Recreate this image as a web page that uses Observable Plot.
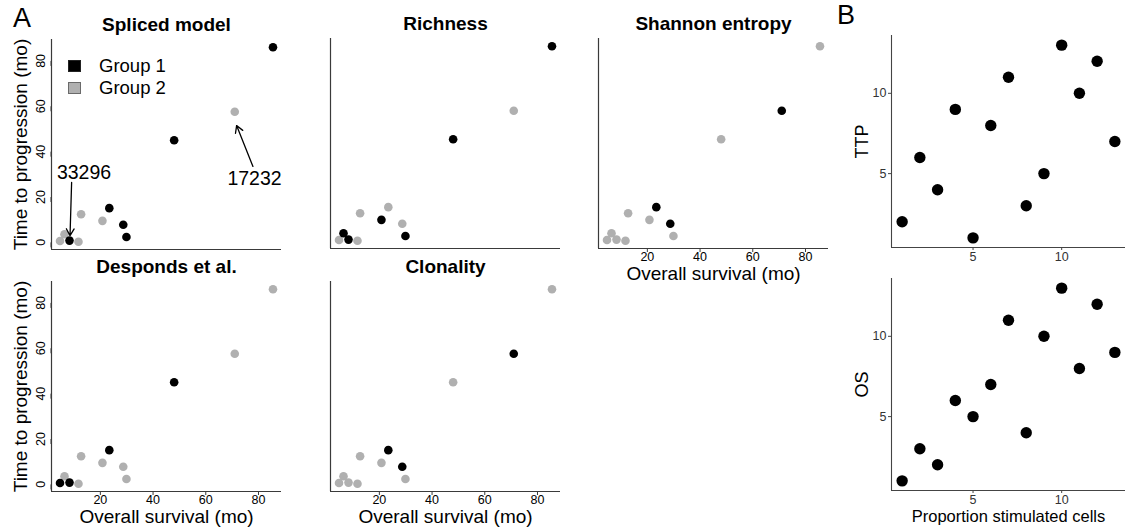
<!DOCTYPE html>
<html><head><meta charset="utf-8">
<script src="https://cdn.jsdelivr.net/npm/d3@7"></script>
<script src="https://cdn.jsdelivr.net/npm/@observablehq/plot@0.6"></script>
<style>
html,body{margin:0;padding:0;background:#fff;}
#fig{position:relative;width:1129px;height:527px;overflow:hidden;background:#fff;font-family:"Liberation Sans",Arial,Helvetica,sans-serif;color:#000;}
#fig > svg{position:absolute;}
.abs{position:absolute;white-space:nowrap;}
.lgrow{display:flex;align-items:center;height:22px;font-size:18.5px;}
.lgsq{width:13px;height:12px;margin-right:18px;box-sizing:border-box;}
</style></head><body><div id="fig"></div>
<script>
// ---------- data (panel A: 12 patients) ----------
const overallSurvival   = [4.7, 6.4, 8.3, 11.7, 12.7, 20.8, 23.4, 28.7, 29.9, 48.0, 71.0, 85.5];
const timeToProgression = [0.6, 3.6, 0.8, 0.3, 12.4, 9.5, 15.1, 7.8, 2.4, 45.0, 57.6, 86.0];
const panelTitles = ["Spliced model", "Richness", "Shannon entropy", "Desponds et al.", "Clonality"];
const groupSpliced   = [2, 2, 1, 2, 2, 2, 1, 1, 1, 1, 2, 1];
const groupRichness  = [2, 1, 1, 2, 2, 1, 2, 2, 1, 1, 2, 1];
const groupShannon   = [2, 2, 2, 2, 2, 2, 1, 1, 2, 2, 1, 2];
const groupDesponds  = [1, 2, 1, 2, 2, 2, 1, 2, 2, 1, 2, 2];
const groupClonality = [2, 2, 2, 2, 2, 2, 1, 1, 2, 2, 1, 2];
const groupNames = ["Group 1", "Group 2"];
const survivalTicks = [20, 40, 60, 80];
const progressionTicks = [0, 20, 40, 60, 80];
const annotationLabels = ["33296", "17232"];
const annotationText  = [[13.8, 30.8], [78.5, 28.0]];       // [OS, TTP]
const annotationArrow = [[9.1, 26.4, 8.5, 3.0], [77.9, 33.5, 71.7, 51.5]];

// ---------- data (panel B) ----------
const proportionStimulated = [1, 2, 3, 4, 5, 6, 7, 8, 9, 10, 11, 12, 13];
const ttpRank = [2, 6, 4, 9, 1, 8, 11, 3, 5, 13, 10, 12, 7];
const osRank  = [1, 3, 2, 6, 5, 7, 11, 4, 10, 13, 8, 12, 9];
const rankTicks = [5, 10];

// ---------- style ----------
const FONT = "Liberation Sans, Arial, Helvetica, sans-serif";
const BLACK = "#000000", GRAY = "#b0b0b0", AXIS = "#3a3a3a";
const fig = document.getElementById("fig");

const xExt = d3.extent(overallSurvival), yExt = d3.extent(timeToProgression);
const xPad = (xExt[1] - xExt[0]) * 0.04, yPad = (yExt[1] - yExt[0]) * 0.04;
const xDom = [xExt[0] - xPad, xExt[1] + xPad];
const yDom = [yExt[0] - yPad, yExt[1] + yPad];

function panelA({title, groups, fl, ft, fw = 230, fh = 210, showY = false, showX = false, annotate = false}) {
  const mL = 52, mR = 10, mT = 40, mB = 42;
  const rows = overallSurvival.map((os, i) => ({os, ttp: timeToProgression[i], g: groups[i]}))
    .sort((a, b) => b.g - a.g);
  const marks = [
    Plot.ruleX([xDom[0]], {stroke: AXIS, strokeWidth: 1.2}),
    Plot.ruleY([yDom[0]], {stroke: AXIS, strokeWidth: 1.2}),
    Plot.dot(rows, {x: "os", y: "ttp", r: 4.3, fill: d => d.g === 1 ? BLACK : GRAY, stroke: "none"}),
    Plot.text([title], {frameAnchor: "top", dy: -15, lineAnchor: "middle", textAnchor: "middle", fontWeight: "bold", fontSize: 19})
  ];
  if (showY) {
    marks.push(Plot.axisY(progressionTicks, {anchor: "left", tickSize: 5, tickPadding: 2, rotate: -90, textAnchor: "middle", lineAnchor: "bottom", fontSize: 12.5, stroke: AXIS, label: null}));
    marks.push(Plot.text(["Time to progression (mo)"], {frameAnchor: "left", rotate: -90, dx: -31, textAnchor: "middle", lineAnchor: "middle", fontSize: 19}));
  }
  if (showX) {
    marks.push(Plot.axisX(survivalTicks, {anchor: "bottom", tickSize: 4, tickPadding: 0, fontSize: 12.5, stroke: AXIS, label: null}));
    marks.push(Plot.text(["Overall survival (mo)"], {frameAnchor: "bottom", dy: 25, lineAnchor: "middle", textAnchor: "middle", fontSize: 19}));
  }
  if (annotate) {
    const arr = annotationArrow.map(([x1, y1, x2, y2]) => ({x1, y1, x2, y2}));
    const txt = annotationText.map(([x, y], i) => ({x, y, label: annotationLabels[i]}));
    marks.push(Plot.arrow(arr, {x1: "x1", y1: "y1", x2: "x2", y2: "y2", stroke: BLACK, strokeWidth: 1.3, headLength: 9, bend: 0}));
    marks.push(Plot.text(txt, {x: "x", y: "y", text: "label", fontSize: 19.5, lineAnchor: "middle"}));
  }
  const svg = Plot.plot({
    width: mL + fw + mR, height: mT + fh + mB,
    marginLeft: mL, marginRight: mR, marginTop: mT, marginBottom: mB,
    x: {domain: xDom, axis: null},
    y: {domain: yDom, axis: null},
    style: {background: "none", fontFamily: FONT, overflow: "visible", maxWidth: "none"},
    marks
  });
  svg.style.left = (fl - mL) + "px";
  svg.style.top = (ft - mT) + "px";
  fig.appendChild(svg);
}

function panelB({ylabel, values, ft, showXTitle}) {
  const mL = 60, mR = 4, mT = 10, mB = 40, fw = 234, fh = 212, fl = 891;
  const rows = proportionStimulated.map((p, i) => ({p, v: values[i]}));
  const dom = [0.4, 13.6];
  const marks = [
    Plot.ruleX([dom[0]], {stroke: "#444", strokeWidth: 1.1}),
    Plot.ruleY([dom[0]], {stroke: "#444", strokeWidth: 1.1}),
    Plot.dot(rows, {x: "p", y: "v", r: 5.7, fill: BLACK, stroke: "none"}),
    Plot.axisX(rankTicks, {anchor: "bottom", tickSize: 3, tickPadding: 2, fontSize: 12.5, fill: "#333", stroke: "#444", label: null}),
    Plot.axisY(rankTicks, {anchor: "left", tickSize: 3, tickPadding: 2, fontSize: 12.5, fill: "#333", stroke: "#444", label: null}),
    Plot.text([ylabel], {frameAnchor: "left", rotate: -90, dx: -29, textAnchor: "middle", lineAnchor: "middle", fontSize: 18})
  ];
  if (showXTitle) marks.push(Plot.text(["Proportion stimulated cells"], {frameAnchor: "bottom", dy: 26, lineAnchor: "middle", textAnchor: "middle", fontSize: 16.5}));
  const svg = Plot.plot({
    width: mL + fw + mR, height: mT + fh + mB,
    marginLeft: mL, marginRight: mR, marginTop: mT, marginBottom: mB,
    x: {domain: dom, axis: null},
    y: {domain: dom, axis: null},
    style: {background: "none", fontFamily: FONT, overflow: "visible", maxWidth: "none"},
    marks
  });
  svg.style.left = (fl - mL) + "px";
  svg.style.top = (ft - mT) + "px";
  fig.appendChild(svg);
}

panelA({title: panelTitles[0], groups: groupSpliced,   fl: 50.7,  ft: 39,  showY: true, annotate: true});
panelA({title: panelTitles[1], groups: groupRichness,  fl: 330,   ft: 38});
panelA({title: panelTitles[2], groups: groupShannon,   fl: 597.5, ft: 38,  showX: true});
panelA({title: panelTitles[3], groups: groupDesponds,  fl: 50.7,  ft: 280.5, showY: true, showX: true});
panelA({title: panelTitles[4], groups: groupClonality, fl: 329.5, ft: 281, showX: true});

panelB({ylabel: "TTP", values: ttpRank, ft: 34.5, showXTitle: false});
panelB({ylabel: "OS",  values: osRank,  ft: 278,  showXTitle: true});

// legend (Spliced model panel)
const lg = document.createElement("div");
lg.className = "abs"; lg.style.left = "68px"; lg.style.top = "54.5px";
groupNames.forEach((name, i) => {
  const row = document.createElement("div"); row.className = "lgrow";
  const sq = document.createElement("div"); sq.className = "lgsq";
  sq.style.background = i === 0 ? BLACK : GRAY;
  sq.style.border = "1px solid " + (i === 0 ? "#222" : "#6a6a6a");
  const t = document.createElement("span"); t.textContent = name;
  row.appendChild(sq); row.appendChild(t); lg.appendChild(row);
});
fig.appendChild(lg);

// panel letters
[["A", 13, 3], ["B", 837, 0]].forEach(([s, l, t]) => {
  const d = document.createElement("div"); d.className = "abs";
  d.style.left = l + "px"; d.style.top = t + "px"; d.style.fontSize = "27px"; d.style.lineHeight = "30px";
  d.textContent = s; fig.appendChild(d);
});
</script></body></html>
